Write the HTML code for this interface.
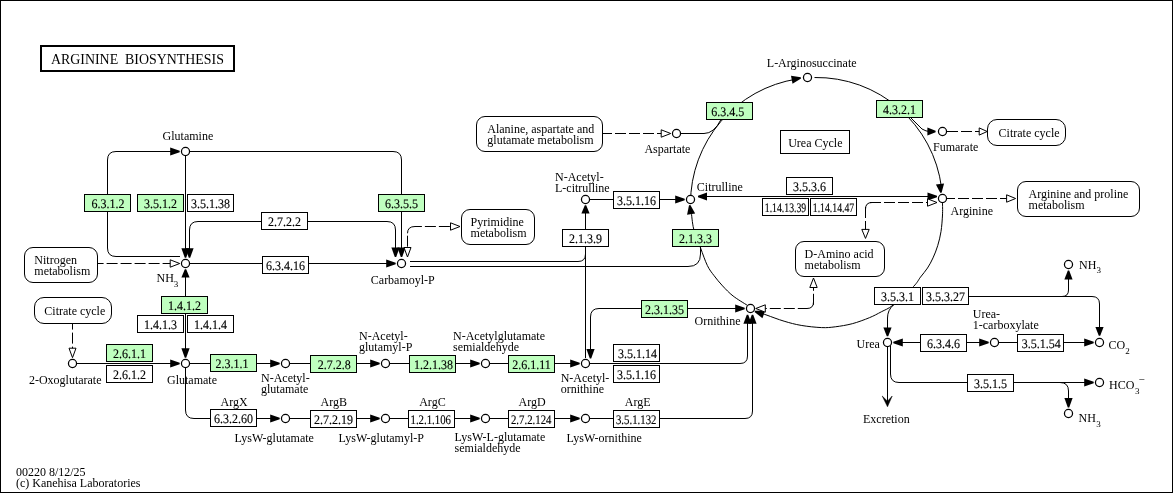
<!DOCTYPE html>
<html><head><meta charset="utf-8"><title>Arginine biosynthesis</title>
<style>
html,body{margin:0;padding:0;background:#fff;}
body{width:1173px;height:493px;overflow:hidden;font-family:"Liberation Serif",serif;}
svg{display:block;will-change:transform;}
svg text{font-family:"Liberation Serif",serif;fill:#000;}
</style></head><body>
<svg width="1173" height="493" viewBox="0 0 1173 493">
<rect x="0" y="0" width="1173" height="493" fill="#fff"/>
<rect x="0.5" y="0.5" width="1172" height="492" fill="none" stroke="#000" stroke-width="1"/>
<rect x="41" y="46" width="193" height="25" fill="#fff" stroke="#000" stroke-width="2"/>
<text x="51" y="64" font-size="13.9" text-anchor="start">ARGININE&#160; BIOSYNTHESIS</text>
<path d="M185.5 155 V254" fill="none" stroke="#000" stroke-width="1"/>
<path d="M180 256.5 H116 Q107.5 256.5 107.5 248 V160 Q107.5 151.5 116 151.5 H176" fill="none" stroke="#000" stroke-width="1"/>
<path d="M189 151.5 H393 Q401.5 151.5 401.5 160 V253" fill="none" stroke="#000" stroke-width="1"/>
<path d="M261 221.5 H198 Q189.5 221.5 189.5 230 V253" fill="none" stroke="#000" stroke-width="1"/>
<path d="M307 221.5 H387 Q395.5 221.5 395.5 230 V253" fill="none" stroke="#000" stroke-width="1"/>
<path d="M189 263.5 H392" fill="none" stroke="#000" stroke-width="1"/>
<path d="M92.6 263.5 H178" fill="none" stroke="#000" stroke-width="1" stroke-dasharray="11 3" stroke-dashoffset="0"/>
<path d="M185.5 273 V354" fill="none" stroke="#000" stroke-width="1"/>
<path d="M72.5 318.6 V356" fill="none" stroke="#000" stroke-width="1" stroke-dasharray="11 3" stroke-dashoffset="0"/>
<path d="M76 363.5 H176" fill="none" stroke="#000" stroke-width="1"/>
<path d="M189 363.5 H276 M289 363.5 H376 M389 363.5 H476 M489 363.5 H576" fill="none" stroke="#000" stroke-width="1"/>
<path d="M185.5 367 V410 Q185.5 418.5 194 418.5 H276 M289 418.5 H376 M389 418.5 H476 M489 418.5 H576" fill="none" stroke="#000" stroke-width="1"/>
<path d="M589 363.5 H740 Q747.5 363.5 747.5 356 V319" fill="none" stroke="#000" stroke-width="1"/>
<path d="M589 418.5 H745 Q752.5 418.5 752.5 411 V319" fill="none" stroke="#000" stroke-width="1"/>
<path d="M590.5 354 V317 Q590.5 308.5 599 308.5 H741" fill="none" stroke="#000" stroke-width="1"/>
<path d="M410 261.5 H578 Q585.5 261.5 585.5 254 V209" fill="none" stroke="#000" stroke-width="1"/>
<path d="M410 266.5 H688 Q700.5 266.5 700.5 254 V247" fill="none" stroke="#000" stroke-width="1"/>
<path d="M585.5 358 V250" fill="none" stroke="#000" stroke-width="1"/>
<path d="M589 199.5 H681" fill="none" stroke="#000" stroke-width="1"/>
<path d="M702 196.5 H933" fill="none" stroke="#000" stroke-width="1"/>
<path d="M690.5 203.5 A126 126 0 0 1 797 79.02 M814.5 77.52 A126 126 0 0 1 941.5 187.5" fill="none" stroke="#000" stroke-width="1"/>
<path d="M942.50 203.00 C942.50 205.00 942.75 210.25 942.50 215.00 C942.25 219.75 941.80 226.38 941.00 231.50 C940.20 236.62 939.03 241.30 937.70 245.70 C936.37 250.10 934.70 254.18 933.00 257.90 C931.30 261.62 929.58 264.80 927.50 268.00 C925.42 271.20 922.83 274.02 920.50 277.10 C918.17 280.18 918.05 281.85 913.50 286.50 C908.95 291.15 898.57 300.78 893.20 305.00 C887.83 309.22 885.27 309.68 881.30 311.80 C877.33 313.92 874.23 315.72 869.40 317.70 C864.57 319.68 857.98 322.18 852.30 323.70 C846.62 325.22 840.42 326.15 835.30 326.80 C830.18 327.45 827.28 327.83 821.60 327.60 C815.92 327.37 807.45 326.47 801.20 325.40 C794.95 324.33 789.80 322.90 784.10 321.20 C778.40 319.50 771.18 316.67 767.00 315.20 C762.82 313.73 760.33 312.87 759.00 312.40" fill="none" stroke="#000" stroke-width="1"/>
<path d="M747.30 305.30 C744.93 303.75 737.22 299.23 733.10 296.00 C728.98 292.77 725.77 289.28 722.60 285.90 C719.43 282.52 716.63 279.08 714.10 275.70 C711.57 272.32 709.67 270.25 707.40 265.60 C705.13 260.95 702.78 253.90 700.50 247.80 C698.22 241.70 695.25 235.08 693.70 229.00 C692.15 222.92 691.72 214.72 691.20 211.30 C690.68 207.88 690.70 208.97 690.60 208.50" fill="none" stroke="#000" stroke-width="1"/>
<path d="M601 133.5 H669" fill="none" stroke="#000" stroke-width="1" stroke-dasharray="11 3" stroke-dashoffset="0"/>
<path d="M680 133.5 H704 Q714 133.5 721 119.5" fill="none" stroke="#000" stroke-width="1"/>
<path d="M911 118 L922 129 Q926 131.5 930 131.5 H931" fill="none" stroke="#000" stroke-width="1"/>
<path d="M947 131.5 H986" fill="none" stroke="#000" stroke-width="1" stroke-dasharray="11 3" stroke-dashoffset="0"/>
<path d="M944 198.5 H1014" fill="none" stroke="#000" stroke-width="1" stroke-dasharray="11 3" stroke-dashoffset="0"/>
<path d="M937 202.5 H870" fill="none" stroke="#000" stroke-width="1" stroke-dasharray="11 3" stroke-dashoffset="0"/>
<path d="M872 202.5 Q865.5 202.5 865.5 209" fill="none" stroke="#000" stroke-width="1"/>
<path d="M865.5 207 V237" fill="none" stroke="#000" stroke-width="1" stroke-dasharray="11 3" stroke-dashoffset="0"/>
<path d="M755.8 308.5 H807" fill="none" stroke="#000" stroke-width="1" stroke-dasharray="11 3" stroke-dashoffset="0"/>
<path d="M807 308.5 Q813.5 308.5 813.5 302" fill="none" stroke="#000" stroke-width="1"/>
<path d="M813.5 304.8 V280" fill="none" stroke="#000" stroke-width="1" stroke-dasharray="11 3" stroke-dashoffset="0"/>
<path d="M893.5 305 Q887.5 310 887.5 318 V330" fill="none" stroke="#000" stroke-width="1"/>
<path d="M887.5 346 V405.5" fill="none" stroke="#000" stroke-width="1"/>
<path d="M882.2 396 L887.5 406.8 L892.2 396 L887.5 401.2 Z" fill="#000" stroke="#000" stroke-width="0.5" stroke-linejoin="miter"/>
<path d="M897 342.5 H985" fill="none" stroke="#000" stroke-width="1"/>
<path d="M998 342.5 H1090" fill="none" stroke="#000" stroke-width="1"/>
<path d="M969 296.5 H1092 Q1099.5 296.5 1099.5 304 V330" fill="none" stroke="#000" stroke-width="1"/>
<path d="M1062 296.5 Q1068.5 296.5 1068.5 290 V279" fill="none" stroke="#000" stroke-width="1"/>
<path d="M890.5 346 V374 Q890.5 382.5 899 382.5 H1090" fill="none" stroke="#000" stroke-width="1"/>
<path d="M1060 382.5 Q1068.5 382.5 1068.5 391 V400" fill="none" stroke="#000" stroke-width="1"/>
<path d="M407.5 235.7 V256" fill="none" stroke="#000" stroke-width="1" stroke-dasharray="11 3" stroke-dashoffset="0"/>
<path d="M407.5 233.3 Q407.5 226.5 415 226.5 H421.9" fill="none" stroke="#000" stroke-width="1"/>
<path d="M424.9 226.5 H459" fill="none" stroke="#000" stroke-width="1" stroke-dasharray="11 3" stroke-dashoffset="0"/>
<polygon points="179.70,152.20 170.20,155.60 170.20,147.40 179.70,150.80" fill="#000"/>
<polygon points="184.80,257.70 181.40,248.20 189.60,248.20 186.20,257.70" fill="#000"/>
<polygon points="188.80,257.70 185.40,248.20 193.60,248.20 190.20,257.70" fill="#000"/>
<polygon points="394.80,257.00 391.40,247.50 399.60,247.50 396.20,257.00" fill="#000"/>
<polygon points="400.80,257.00 397.40,247.50 405.60,247.50 402.20,257.00" fill="#000"/>
<polygon points="407.50,257.00 404.00,247.50 411.00,247.50" fill="#fff" stroke="#000" stroke-width="1" stroke-linejoin="miter"/>
<polygon points="395.70,264.20 386.20,267.60 386.20,259.40 395.70,262.80" fill="#000"/>
<polygon points="179.70,263.50 170.20,267.20 170.20,259.80" fill="#fff" stroke="#000" stroke-width="1" stroke-linejoin="miter"/>
<polygon points="186.20,269.30 189.60,277.50 181.40,277.50 184.80,269.30" fill="#000"/>
<polygon points="184.80,357.70 181.40,348.20 189.60,348.20 186.20,357.70" fill="#000"/>
<polygon points="72.50,357.70 69.00,348.20 76.00,348.20" fill="#fff" stroke="#000" stroke-width="1" stroke-linejoin="miter"/>
<polygon points="179.70,364.20 170.20,367.60 170.20,359.40 179.70,362.80" fill="#000"/>
<polygon points="279.70,364.20 270.20,367.60 270.20,359.40 279.70,362.80" fill="#000"/>
<polygon points="379.70,364.20 370.20,367.60 370.20,359.40 379.70,362.80" fill="#000"/>
<polygon points="479.70,364.20 470.20,367.60 470.20,359.40 479.70,362.80" fill="#000"/>
<polygon points="579.70,364.20 570.20,367.60 570.20,359.40 579.70,362.80" fill="#000"/>
<polygon points="279.70,419.20 270.20,422.60 270.20,414.40 279.70,417.80" fill="#000"/>
<polygon points="379.70,419.20 370.20,422.60 370.20,414.40 379.70,417.80" fill="#000"/>
<polygon points="479.70,419.20 470.20,422.60 470.20,414.40 479.70,417.80" fill="#000"/>
<polygon points="579.70,419.20 570.20,422.60 570.20,414.40 579.70,417.80" fill="#000"/>
<polygon points="748.20,314.70 751.60,323.70 743.40,323.70 746.80,314.70" fill="#000"/>
<polygon points="753.20,314.70 756.60,323.70 748.40,323.70 751.80,314.70" fill="#000"/>
<polygon points="744.70,309.20 735.20,312.60 735.20,304.40 744.70,307.80" fill="#000"/>
<polygon points="589.80,358.50 586.40,349.00 594.60,349.00 591.20,358.50" fill="#000"/>
<polygon points="586.20,205.30 589.60,213.60 581.40,213.60 584.80,205.30" fill="#000"/>
<polygon points="684.70,200.20 675.20,203.60 675.20,195.40 684.70,198.80" fill="#000"/>
<polygon points="698.00,195.80 707.00,192.40 707.00,200.60 698.00,197.20" fill="#000"/>
<polygon points="937.00,197.20 927.50,200.60 927.50,192.40 937.00,195.80" fill="#000"/>
<polygon points="690.39,205.09 695.16,213.45 687.06,214.73 689.01,205.31" fill="#000"/>
<polygon points="801.03,78.59 792.55,83.70 790.99,75.65 800.77,77.21" fill="#000"/>
<polygon points="940.20,192.87 935.90,184.48 944.06,183.62 941.60,192.73" fill="#000"/>
<polygon points="755.03,310.64 765.12,310.52 762.45,318.27 754.57,311.96" fill="#000"/>
<polygon points="670.70,133.50 661.20,137.20 661.20,129.80" fill="#fff" stroke="#000" stroke-width="1" stroke-linejoin="miter"/>
<polygon points="935.60,132.20 927.40,135.60 927.40,127.40 935.60,130.80" fill="#000"/>
<polygon points="987.20,131.50 979.20,135.10 979.20,127.90" fill="#fff" stroke="#000" stroke-width="1" stroke-linejoin="miter"/>
<polygon points="1015.60,198.50 1006.60,202.20 1006.60,194.80" fill="#fff" stroke="#000" stroke-width="1" stroke-linejoin="miter"/>
<polygon points="937.00,202.50 927.50,206.20 927.50,198.80" fill="#fff" stroke="#000" stroke-width="1" stroke-linejoin="miter"/>
<polygon points="865.50,238.40 861.80,229.40 869.20,229.40" fill="#fff" stroke="#000" stroke-width="1" stroke-linejoin="miter"/>
<polygon points="755.80,308.50 765.30,304.80 765.30,312.20" fill="#fff" stroke="#000" stroke-width="1" stroke-linejoin="miter"/>
<polygon points="813.50,278.00 817.20,287.50 809.80,287.50" fill="#fff" stroke="#000" stroke-width="1" stroke-linejoin="miter"/>
<polygon points="886.80,336.30 883.40,327.50 891.60,327.50 888.20,336.30" fill="#000"/>
<polygon points="893.30,341.80 902.80,338.40 902.80,346.60 893.30,343.20" fill="#000"/>
<polygon points="988.70,343.20 979.20,346.60 979.20,338.40 988.70,341.80" fill="#000"/>
<polygon points="1093.70,343.20 1084.20,346.60 1084.20,338.40 1093.70,341.80" fill="#000"/>
<polygon points="1098.80,335.70 1095.40,327.00 1103.60,327.00 1100.20,335.70" fill="#000"/>
<polygon points="1069.20,270.60 1072.60,279.60 1064.40,279.60 1067.80,270.60" fill="#000"/>
<polygon points="1093.70,383.20 1084.20,386.60 1084.20,378.40 1093.70,381.80" fill="#000"/>
<polygon points="1067.80,407.60 1064.40,398.10 1072.60,398.10 1069.20,407.60" fill="#000"/>
<polygon points="460.00,226.50 450.50,230.20 450.50,222.80" fill="#fff" stroke="#000" stroke-width="1" stroke-linejoin="miter"/>
<rect x="84.5" y="194.5" width="46" height="17" fill="#bfffbf" stroke="#000" stroke-width="1"/>
<text x="91.50" y="208.00" font-size="13" textLength="33.00" lengthAdjust="spacingAndGlyphs" stroke="#000" stroke-width="0.15" text-rendering="geometricPrecision">6.3.1.2</text>
<rect x="137.5" y="194.5" width="46" height="17" fill="#bfffbf" stroke="#000" stroke-width="1"/>
<text x="144.00" y="208.00" font-size="13" textLength="33.00" lengthAdjust="spacingAndGlyphs" stroke="#000" stroke-width="0.15" text-rendering="geometricPrecision">3.5.1.2</text>
<rect x="187.5" y="194.5" width="46" height="17" fill="#fff" stroke="#000" stroke-width="1"/>
<text x="191.00" y="208.00" font-size="13" textLength="39.00" lengthAdjust="spacingAndGlyphs" stroke="#000" stroke-width="0.15" text-rendering="geometricPrecision">3.5.1.38</text>
<rect x="261.5" y="212.5" width="46" height="17" fill="#fff" stroke="#000" stroke-width="1"/>
<text x="268.00" y="226.00" font-size="13" textLength="33.00" lengthAdjust="spacingAndGlyphs" stroke="#000" stroke-width="0.15" text-rendering="geometricPrecision">2.7.2.2</text>
<rect x="378.5" y="194.5" width="46" height="17" fill="#bfffbf" stroke="#000" stroke-width="1"/>
<text x="385.00" y="208.00" font-size="13" textLength="33.00" lengthAdjust="spacingAndGlyphs" stroke="#000" stroke-width="0.15" text-rendering="geometricPrecision">6.3.5.5</text>
<rect x="262.5" y="256.5" width="46" height="17" fill="#fff" stroke="#000" stroke-width="1"/>
<text x="266.00" y="270.00" font-size="13" textLength="39.00" lengthAdjust="spacingAndGlyphs" stroke="#000" stroke-width="0.15" text-rendering="geometricPrecision">6.3.4.16</text>
<rect x="161.5" y="296.5" width="46" height="17" fill="#bfffbf" stroke="#000" stroke-width="1"/>
<text x="168.00" y="310.00" font-size="13" textLength="33.00" lengthAdjust="spacingAndGlyphs" stroke="#000" stroke-width="0.15" text-rendering="geometricPrecision">1.4.1.2</text>
<rect x="137.5" y="315.5" width="46" height="17" fill="#fff" stroke="#000" stroke-width="1"/>
<text x="144.00" y="329.00" font-size="13" textLength="33.00" lengthAdjust="spacingAndGlyphs" stroke="#000" stroke-width="0.15" text-rendering="geometricPrecision">1.4.1.3</text>
<rect x="187.5" y="315.5" width="46" height="17" fill="#fff" stroke="#000" stroke-width="1"/>
<text x="194.00" y="329.00" font-size="13" textLength="33.00" lengthAdjust="spacingAndGlyphs" stroke="#000" stroke-width="0.15" text-rendering="geometricPrecision">1.4.1.4</text>
<rect x="106.5" y="344.5" width="46" height="17" fill="#bfffbf" stroke="#000" stroke-width="1"/>
<text x="113.00" y="358.00" font-size="13" textLength="33.00" lengthAdjust="spacingAndGlyphs" stroke="#000" stroke-width="0.15" text-rendering="geometricPrecision">2.6.1.1</text>
<rect x="106.5" y="365.5" width="46" height="17" fill="#fff" stroke="#000" stroke-width="1"/>
<text x="113.00" y="379.00" font-size="13" textLength="33.00" lengthAdjust="spacingAndGlyphs" stroke="#000" stroke-width="0.15" text-rendering="geometricPrecision">2.6.1.2</text>
<rect x="210.5" y="354.5" width="46" height="17" fill="#bfffbf" stroke="#000" stroke-width="1"/>
<text x="215.50" y="368.00" font-size="13" textLength="33.00" lengthAdjust="spacingAndGlyphs" stroke="#000" stroke-width="0.15" text-rendering="geometricPrecision">2.3.1.1</text>
<rect x="310.5" y="355.5" width="46" height="17" fill="#bfffbf" stroke="#000" stroke-width="1"/>
<text x="317.70" y="369.00" font-size="13" textLength="33.00" lengthAdjust="spacingAndGlyphs" stroke="#000" stroke-width="0.15" text-rendering="geometricPrecision">2.7.2.8</text>
<rect x="409.5" y="355.5" width="46" height="17" fill="#bfffbf" stroke="#000" stroke-width="1"/>
<text x="414.00" y="369.00" font-size="13" textLength="39.00" lengthAdjust="spacingAndGlyphs" stroke="#000" stroke-width="0.15" text-rendering="geometricPrecision">1.2.1.38</text>
<rect x="508.5" y="355.5" width="46" height="17" fill="#bfffbf" stroke="#000" stroke-width="1"/>
<text x="512.22" y="369.00" font-size="13" textLength="38.55" lengthAdjust="spacingAndGlyphs" stroke="#000" stroke-width="0.15" text-rendering="geometricPrecision">2.6.1.11</text>
<rect x="210.5" y="409.5" width="46" height="17" fill="#fff" stroke="#000" stroke-width="1"/>
<text x="214.00" y="423.00" font-size="13" textLength="39.00" lengthAdjust="spacingAndGlyphs" stroke="#000" stroke-width="0.15" text-rendering="geometricPrecision">6.3.2.60</text>
<rect x="310.5" y="410.5" width="46" height="17" fill="#fff" stroke="#000" stroke-width="1"/>
<text x="314.00" y="424.00" font-size="13" textLength="39.00" lengthAdjust="spacingAndGlyphs" stroke="#000" stroke-width="0.15" text-rendering="geometricPrecision">2.7.2.19</text>
<rect x="408.5" y="410.5" width="46" height="17" fill="#fff" stroke="#000" stroke-width="1"/>
<text x="410.50" y="424.00" font-size="13" textLength="40.50" lengthAdjust="spacingAndGlyphs" stroke="#000" stroke-width="0.15" text-rendering="geometricPrecision">1.2.1.106</text>
<rect x="508.5" y="410.5" width="46" height="17" fill="#fff" stroke="#000" stroke-width="1"/>
<text x="510.95" y="424.00" font-size="13" textLength="40.50" lengthAdjust="spacingAndGlyphs" stroke="#000" stroke-width="0.15" text-rendering="geometricPrecision">2.7.2.124</text>
<rect x="613.5" y="410.5" width="46" height="17" fill="#fff" stroke="#000" stroke-width="1"/>
<text x="615.95" y="424.00" font-size="13" textLength="40.50" lengthAdjust="spacingAndGlyphs" stroke="#000" stroke-width="0.15" text-rendering="geometricPrecision">3.5.1.132</text>
<rect x="613.5" y="344.5" width="46" height="17" fill="#fff" stroke="#000" stroke-width="1"/>
<text x="618.00" y="358.00" font-size="13" textLength="39.00" lengthAdjust="spacingAndGlyphs" stroke="#000" stroke-width="0.15" text-rendering="geometricPrecision">3.5.1.14</text>
<rect x="613.5" y="365.5" width="46" height="17" fill="#fff" stroke="#000" stroke-width="1"/>
<text x="617.00" y="379.00" font-size="13" textLength="39.00" lengthAdjust="spacingAndGlyphs" stroke="#000" stroke-width="0.15" text-rendering="geometricPrecision">3.5.1.16</text>
<rect x="641.5" y="300.5" width="46" height="17" fill="#bfffbf" stroke="#000" stroke-width="1"/>
<text x="645.00" y="314.00" font-size="13" textLength="39.00" lengthAdjust="spacingAndGlyphs" stroke="#000" stroke-width="0.15" text-rendering="geometricPrecision">2.3.1.35</text>
<rect x="562.5" y="229.5" width="46" height="17" fill="#fff" stroke="#000" stroke-width="1"/>
<text x="569.00" y="243.00" font-size="13" textLength="33.00" lengthAdjust="spacingAndGlyphs" stroke="#000" stroke-width="0.15" text-rendering="geometricPrecision">2.1.3.9</text>
<rect x="672.5" y="229.5" width="46" height="17" fill="#bfffbf" stroke="#000" stroke-width="1"/>
<text x="679.00" y="243.00" font-size="13" textLength="33.00" lengthAdjust="spacingAndGlyphs" stroke="#000" stroke-width="0.15" text-rendering="geometricPrecision">2.1.3.3</text>
<rect x="613.5" y="191.5" width="46" height="17" fill="#fff" stroke="#000" stroke-width="1"/>
<text x="617.00" y="205.00" font-size="13" textLength="39.00" lengthAdjust="spacingAndGlyphs" stroke="#000" stroke-width="0.15" text-rendering="geometricPrecision">3.5.1.16</text>
<rect x="706.5" y="102.5" width="46" height="17" fill="#bfffbf" stroke="#000" stroke-width="1"/>
<text x="711.25" y="116.00" font-size="13" textLength="33.00" lengthAdjust="spacingAndGlyphs" stroke="#000" stroke-width="0.15" text-rendering="geometricPrecision">6.3.4.5</text>
<rect x="876.5" y="100.5" width="46" height="17" fill="#bfffbf" stroke="#000" stroke-width="1"/>
<text x="883.00" y="114.00" font-size="13" textLength="33.00" lengthAdjust="spacingAndGlyphs" stroke="#000" stroke-width="0.15" text-rendering="geometricPrecision">4.3.2.1</text>
<rect x="786.5" y="177.5" width="46" height="17" fill="#fff" stroke="#000" stroke-width="1"/>
<text x="793.00" y="191.00" font-size="13" textLength="33.00" lengthAdjust="spacingAndGlyphs" stroke="#000" stroke-width="0.15" text-rendering="geometricPrecision">3.5.3.6</text>
<rect x="762.5" y="198.5" width="46" height="17" fill="#fff" stroke="#000" stroke-width="1"/>
<text x="764.75" y="212.00" font-size="13" textLength="41.50" lengthAdjust="spacingAndGlyphs" stroke="#000" stroke-width="0.15" text-rendering="geometricPrecision">1.14.13.39</text>
<rect x="810.5" y="198.5" width="46" height="17" fill="#fff" stroke="#000" stroke-width="1"/>
<text x="812.75" y="212.00" font-size="13" textLength="41.50" lengthAdjust="spacingAndGlyphs" stroke="#000" stroke-width="0.15" text-rendering="geometricPrecision">1.14.14.47</text>
<rect x="874.5" y="287.5" width="46" height="17" fill="#fff" stroke="#000" stroke-width="1"/>
<text x="881.00" y="301.00" font-size="13" textLength="33.00" lengthAdjust="spacingAndGlyphs" stroke="#000" stroke-width="0.15" text-rendering="geometricPrecision">3.5.3.1</text>
<rect x="922.5" y="287.5" width="46" height="17" fill="#fff" stroke="#000" stroke-width="1"/>
<text x="926.00" y="301.00" font-size="13" textLength="39.00" lengthAdjust="spacingAndGlyphs" stroke="#000" stroke-width="0.15" text-rendering="geometricPrecision">3.5.3.27</text>
<rect x="920.5" y="334.5" width="46" height="17" fill="#fff" stroke="#000" stroke-width="1"/>
<text x="927.00" y="348.00" font-size="13" textLength="33.00" lengthAdjust="spacingAndGlyphs" stroke="#000" stroke-width="0.15" text-rendering="geometricPrecision">6.3.4.6</text>
<rect x="1017.5" y="334.5" width="46" height="17" fill="#fff" stroke="#000" stroke-width="1"/>
<text x="1021.75" y="348.00" font-size="13" textLength="39.00" lengthAdjust="spacingAndGlyphs" stroke="#000" stroke-width="0.15" text-rendering="geometricPrecision">3.5.1.54</text>
<rect x="967.5" y="374.5" width="46" height="17" fill="#fff" stroke="#000" stroke-width="1"/>
<text x="974.00" y="388.00" font-size="13" textLength="33.00" lengthAdjust="spacingAndGlyphs" stroke="#000" stroke-width="0.15" text-rendering="geometricPrecision">3.5.1.5</text>
<rect x="780.5" y="130.5" width="69" height="23" fill="#fff" stroke="#000" stroke-width="1"/>
<text x="788.2" y="146.8" font-size="12" text-anchor="start">Urea Cycle</text>
<rect x="24.5" y="247.5" width="73" height="35" rx="8.5" ry="8.5" fill="#fff" stroke="#000" stroke-width="1"/>
<text x="34.3" y="263.6" font-size="12">Nitrogen</text>
<text x="34.3" y="274.90000000000003" font-size="12">metabolism</text>
<rect x="34.5" y="297.5" width="77" height="26" rx="9.5" ry="9.5" fill="#fff" stroke="#000" stroke-width="1"/>
<text x="44.3" y="314.8" font-size="12">Citrate cycle</text>
<rect x="461.5" y="209.5" width="73" height="35" rx="8.5" ry="8.5" fill="#fff" stroke="#000" stroke-width="1"/>
<text x="470.6" y="226.2" font-size="12">Pyrimidine</text>
<text x="470.6" y="236.95" font-size="12">metabolism</text>
<rect x="476.5" y="116.5" width="126" height="35" rx="8.5" ry="8.5" fill="#fff" stroke="#000" stroke-width="1"/>
<text x="487.3" y="133.0" font-size="12">Alanine, aspartate and</text>
<text x="487.3" y="143.75" font-size="12">glutamate metabolism</text>
<rect x="987.5" y="119.5" width="78" height="26" rx="9.5" ry="9.5" fill="#fff" stroke="#000" stroke-width="1"/>
<text x="998.6" y="137" font-size="12">Citrate cycle</text>
<rect x="1017.5" y="181.5" width="122" height="35" rx="8.5" ry="8.5" fill="#fff" stroke="#000" stroke-width="1"/>
<text x="1028.6" y="198.2" font-size="12">Arginine and proline</text>
<text x="1028.6" y="209.0" font-size="12">metabolism</text>
<rect x="795.5" y="241.5" width="89" height="35" rx="8.5" ry="8.5" fill="#fff" stroke="#000" stroke-width="1"/>
<text x="804.6" y="257.6" font-size="12">D-Amino acid</text>
<text x="804.6" y="268.6" font-size="12">metabolism</text>
<circle cx="185.5" cy="151.5" r="4.05" fill="#fff" stroke="#000" stroke-width="1.25"/>
<circle cx="185.5" cy="263.5" r="4.05" fill="#fff" stroke="#000" stroke-width="1.25"/>
<circle cx="185.5" cy="363.5" r="4.05" fill="#fff" stroke="#000" stroke-width="1.25"/>
<circle cx="72.5" cy="363.5" r="4.05" fill="#fff" stroke="#000" stroke-width="1.25"/>
<circle cx="401.5" cy="263.5" r="4.05" fill="#fff" stroke="#000" stroke-width="1.25"/>
<circle cx="285.5" cy="363.5" r="4.05" fill="#fff" stroke="#000" stroke-width="1.25"/>
<circle cx="385.5" cy="363.5" r="4.05" fill="#fff" stroke="#000" stroke-width="1.25"/>
<circle cx="485.5" cy="363.5" r="4.05" fill="#fff" stroke="#000" stroke-width="1.25"/>
<circle cx="585.5" cy="363.5" r="4.05" fill="#fff" stroke="#000" stroke-width="1.25"/>
<circle cx="285.5" cy="418.5" r="4.05" fill="#fff" stroke="#000" stroke-width="1.25"/>
<circle cx="385.5" cy="418.5" r="4.05" fill="#fff" stroke="#000" stroke-width="1.25"/>
<circle cx="485.5" cy="418.5" r="4.05" fill="#fff" stroke="#000" stroke-width="1.25"/>
<circle cx="585.5" cy="418.5" r="4.05" fill="#fff" stroke="#000" stroke-width="1.25"/>
<circle cx="585.5" cy="199.5" r="4.05" fill="#fff" stroke="#000" stroke-width="1.25"/>
<circle cx="690.5" cy="199.5" r="4.05" fill="#fff" stroke="#000" stroke-width="1.25"/>
<circle cx="750.5" cy="308.5" r="4.05" fill="#fff" stroke="#000" stroke-width="1.25"/>
<circle cx="676.5" cy="133.5" r="4.05" fill="#fff" stroke="#000" stroke-width="1.25"/>
<circle cx="807.5" cy="77.5" r="4.05" fill="#fff" stroke="#000" stroke-width="1.25"/>
<circle cx="942.5" cy="131.5" r="4.05" fill="#fff" stroke="#000" stroke-width="1.25"/>
<circle cx="942.5" cy="198.5" r="4.05" fill="#fff" stroke="#000" stroke-width="1.25"/>
<circle cx="887.5" cy="342.5" r="4.05" fill="#fff" stroke="#000" stroke-width="1.25"/>
<circle cx="994.5" cy="342.5" r="4.05" fill="#fff" stroke="#000" stroke-width="1.25"/>
<circle cx="1099.5" cy="342.5" r="4.05" fill="#fff" stroke="#000" stroke-width="1.25"/>
<circle cx="1068.5" cy="264.5" r="4.05" fill="#fff" stroke="#000" stroke-width="1.25"/>
<circle cx="1099.5" cy="382.5" r="4.05" fill="#fff" stroke="#000" stroke-width="1.25"/>
<circle cx="1068.5" cy="413.5" r="4.05" fill="#fff" stroke="#000" stroke-width="1.25"/>
<text x="162.6" y="140" font-size="12" text-anchor="start">Glutamine</text>
<text x="156.5" y="282" font-size="12" text-anchor="start">NH</text>
<text x="173.8" y="286.7" font-size="9" text-anchor="start">3</text>
<text x="28.9" y="384" font-size="12" text-anchor="start">2-Oxoglutarate</text>
<text x="167" y="384" font-size="12" text-anchor="start">Glutamate</text>
<text x="370.8" y="283.6" font-size="12" text-anchor="start">Carbamoyl-P</text>
<text x="261" y="382" font-size="12" text-anchor="start">N-Acetyl-</text>
<text x="261" y="392.75" font-size="12" text-anchor="start">glutamate</text>
<text x="359" y="340.2" font-size="12" text-anchor="start">N-Acetyl-</text>
<text x="359" y="350.95" font-size="12" text-anchor="start">glutamyl-P</text>
<text x="453" y="340.2" font-size="12" text-anchor="start">N-Acetylglutamate</text>
<text x="453" y="350.95" font-size="12" text-anchor="start">semialdehyde</text>
<text x="560.7" y="382" font-size="12" text-anchor="start">N-Acetyl-</text>
<text x="560.7" y="392.75" font-size="12" text-anchor="start">ornithine</text>
<text x="220.6" y="405.6" font-size="12" text-anchor="start">ArgX</text>
<text x="320.6" y="405.6" font-size="12" text-anchor="start">ArgB</text>
<text x="419.2" y="405.6" font-size="12" text-anchor="start">ArgC</text>
<text x="518.6" y="405.6" font-size="12" text-anchor="start">ArgD</text>
<text x="624.8" y="405.6" font-size="12" text-anchor="start">ArgE</text>
<text x="234.6" y="442.2" font-size="12" text-anchor="start">LysW-glutamate</text>
<text x="338.6" y="442" font-size="12" text-anchor="start">LysW-glutamyl-P</text>
<text x="454.6" y="441.3" font-size="12" text-anchor="start">LysW-L-glutamate</text>
<text x="454.6" y="452.05" font-size="12" text-anchor="start">semialdehyde</text>
<text x="566.6" y="442" font-size="12" text-anchor="start">LysW-ornithine</text>
<text x="555" y="181" font-size="12" text-anchor="start">N-Acetyl-</text>
<text x="555" y="191.75" font-size="12" text-anchor="start">L-citrulline</text>
<text x="696.8" y="190.7" font-size="12" text-anchor="start">Citrulline</text>
<text x="694.5" y="325" font-size="12" text-anchor="start">Ornithine</text>
<text x="644.4" y="152.7" font-size="12" text-anchor="start">Aspartate</text>
<text x="766.8" y="66.6" font-size="12" text-anchor="start">L-Arginosuccinate</text>
<text x="933" y="151" font-size="12" text-anchor="start">Fumarate</text>
<text x="950.6" y="215" font-size="12" text-anchor="start">Arginine</text>
<text x="856.5" y="348.3" font-size="12" text-anchor="start">Urea</text>
<text x="863" y="423" font-size="12" text-anchor="start">Excretion</text>
<text x="972.8" y="317.5" font-size="12" text-anchor="start">Urea-</text>
<text x="972.8" y="328.5" font-size="12" text-anchor="start">1-carboxylate</text>
<text x="1079" y="269" font-size="12" text-anchor="start">NH</text>
<text x="1096.6" y="272.6" font-size="9" text-anchor="start">3</text>
<text x="1108.6" y="348.8" font-size="12" text-anchor="start">CO</text>
<text x="1125.2" y="353.8" font-size="9" text-anchor="start">2</text>
<text x="1109" y="388.7" font-size="12" text-anchor="start">HCO</text>
<text x="1135" y="394.3" font-size="9" text-anchor="start">3</text>
<text x="1138.6" y="383.3" font-size="11" text-anchor="start">&#8722;</text>
<text x="1078.6" y="421.5" font-size="12" text-anchor="start">NH</text>
<text x="1096.3" y="426.5" font-size="9" text-anchor="start">3</text>
<text x="15.9" y="475.6" font-size="12" text-anchor="start">00220 8/12/25</text>
<text x="15.9" y="487" font-size="12" text-anchor="start">(c) Kanehisa Laboratories</text>
</svg>
</body></html>
